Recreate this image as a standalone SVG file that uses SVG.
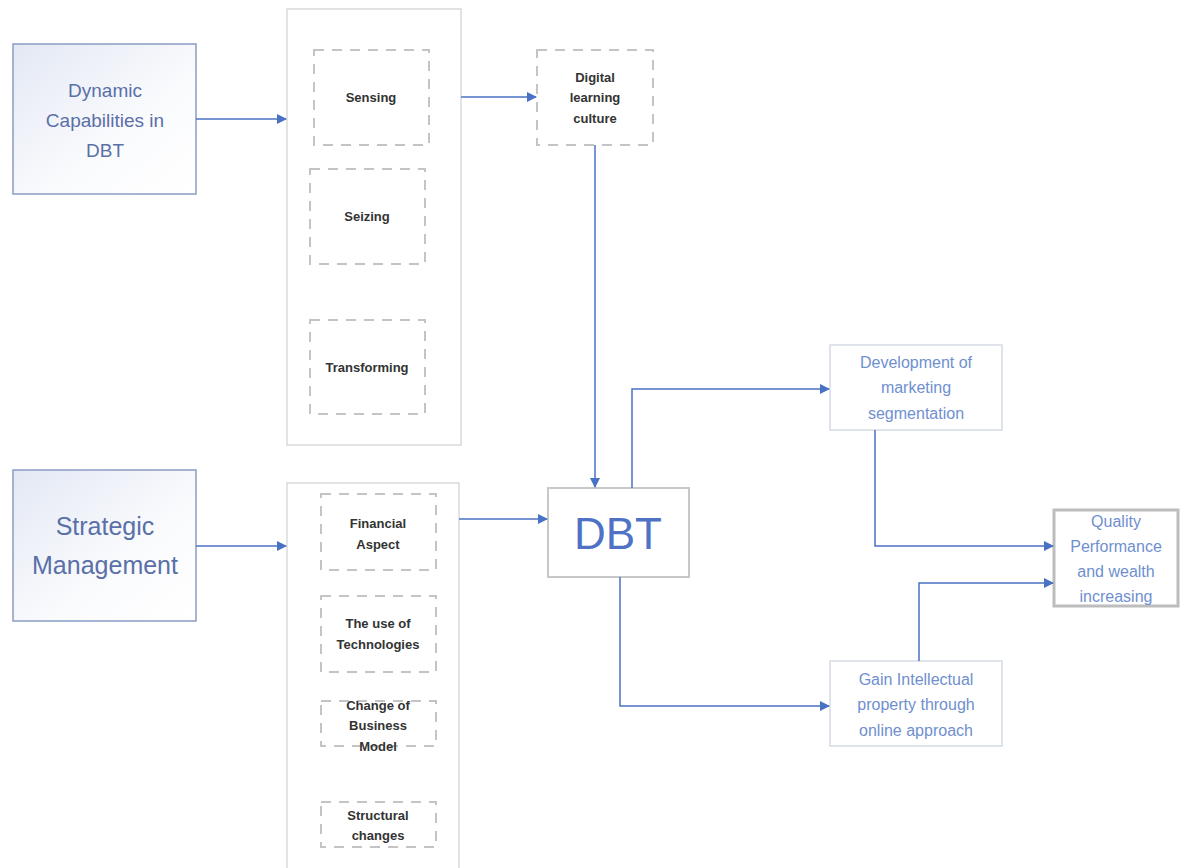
<svg xmlns="http://www.w3.org/2000/svg" width="1182" height="868" viewBox="0 0 1182 868">
<style>
.bg{fill:#ffffff}
.main{stroke:#8a9cc4;stroke-width:1.5}
.cont{fill:#fff;stroke:#d0d0d0;stroke-width:1.2}
.dash{fill:none;stroke:#c4c4c4;stroke-width:2;stroke-dasharray:10,8}
.box{fill:#fff;stroke:#d4dae6;stroke-width:1.5}
.qbox{fill:#fff;stroke:#bdbdbd;stroke-width:3}
.dbt{fill:#fff;stroke:#c8c8c8;stroke-width:2}
.t1{font-family:"Liberation Sans",Arial,sans-serif;fill:#5a70a8;text-anchor:middle}
.t2{font-family:"Liberation Sans",Arial,sans-serif;font-weight:bold;font-size:13px;fill:#333;text-anchor:middle}
.t3{font-family:"Liberation Sans",Arial,sans-serif;font-size:16px;fill:#6f8fcf;text-anchor:middle}
.conn{fill:none;stroke:#4a72c4;stroke-width:1.5}
</style>
<defs>
<linearGradient id="g" x1="0" y1="0" x2="1" y2="1">
<stop offset="0" stop-color="#e3e8f4"/>
<stop offset="0.6" stop-color="#fafbfd"/>
<stop offset="1" stop-color="#ffffff"/>
</linearGradient>
<marker id="a" markerWidth="10" markerHeight="10" refX="9" refY="5" orient="auto" markerUnits="userSpaceOnUse">
<path d="M0,0 L10,5 L0,10 z" fill="#4a72c4"/>
</marker>
</defs>
<rect class="bg" width="1182" height="868"/>

<g id="dynamic">
<rect class="main" x="13" y="44" width="183" height="150" fill="url(#g)"/>
<text class="t1" font-size="19"><tspan x="105" y="97">Dynamic</tspan><tspan x="105" y="127">Capabilities in</tspan><tspan x="105" y="157">DBT</tspan></text>
</g>

<g id="container1">
<rect class="cont" x="287" y="9" width="174" height="436"/>
</g>
<g id="sensing">
<rect class="dash" x="314" y="50" width="115" height="95"/>
<text class="t2" x="371" y="102">Sensing</text>
</g>
<g id="seizing">
<rect class="dash" x="310" y="169" width="115" height="95"/>
<text class="t2" x="367" y="221">Seizing</text>
</g>
<g id="transforming">
<rect class="dash" x="310" y="320" width="115" height="94"/>
<text class="t2" x="367" y="372">Transforming</text>
</g>

<g id="digital">
<rect class="dash" x="537" y="50" width="116" height="95"/>
<text class="t2"><tspan x="595" y="82">Digital</tspan><tspan x="595" y="102">learning</tspan><tspan x="595" y="123">culture</tspan></text>
</g>

<g id="strategic">
<rect class="main" x="13" y="470" width="183" height="151" fill="url(#g)"/>
<text class="t1" font-size="25"><tspan x="105" y="535">Strategic</tspan><tspan x="105" y="574">Management</tspan></text>
</g>

<g id="container2">
<rect class="cont" x="287" y="483" width="172" height="390"/>
</g>
<g id="financial">
<rect class="dash" x="321" y="494" width="115" height="76"/>
<text class="t2"><tspan x="378" y="528">Financial</tspan><tspan x="378" y="549">Aspect</tspan></text>
</g>
<g id="technologies">
<rect class="dash" x="321" y="596" width="115" height="76"/>
<text class="t2"><tspan x="378" y="628">The use of</tspan><tspan x="378" y="649">Technologies</tspan></text>
</g>
<g id="business">
<rect class="dash" x="321" y="701" width="115" height="45"/>
<text class="t2"><tspan x="378" y="710">Change of</tspan><tspan x="378" y="730">Business</tspan><tspan x="378" y="751">Model</tspan></text>
</g>
<g id="structural">
<rect class="dash" x="321" y="802" width="115" height="45"/>
<text class="t2"><tspan x="378" y="820">Structural</tspan><tspan x="378" y="840">changes</tspan></text>
</g>

<g id="dbt">
<rect class="dbt" x="548" y="488" width="141" height="89"/>
<text x="618" y="549" font-family="'Liberation Sans',Arial,sans-serif" font-size="44" fill="#4f72c4" text-anchor="middle">DBT</text>
</g>

<g id="development">
<rect class="box" x="830" y="345" width="172" height="85"/>
<text class="t3"><tspan x="916" y="368">Development of</tspan><tspan x="916" y="393">marketing</tspan><tspan x="916" y="419">segmentation</tspan></text>
</g>

<g id="gain">
<rect class="box" x="830" y="661" width="172" height="85"/>
<text class="t3"><tspan x="916" y="685">Gain Intellectual</tspan><tspan x="916" y="710">property through</tspan><tspan x="916" y="736">online approach</tspan></text>
</g>

<g id="quality">
<rect class="qbox" x="1054" y="510" width="124" height="96"/>
<text class="t3"><tspan x="1116" y="527">Quality</tspan><tspan x="1116" y="552">Performance</tspan><tspan x="1116" y="577">and wealth</tspan><tspan x="1116" y="602">increasing</tspan></text>
</g>

<g id="connectors">
<path class="conn" d="M196,119 H286" marker-end="url(#a)"/>
<path class="conn" d="M461,97 H536" marker-end="url(#a)"/>
<path class="conn" d="M595,145 V487" marker-end="url(#a)"/>
<path class="conn" d="M196,546 H286" marker-end="url(#a)"/>
<path class="conn" d="M459,519 H547" marker-end="url(#a)"/>
<path class="conn" d="M632,488 V389 H829" marker-end="url(#a)"/>
<path class="conn" d="M620,577 V706 H829" marker-end="url(#a)"/>
<path class="conn" d="M875,430 V546 H1053" marker-end="url(#a)"/>
<path class="conn" d="M919,661 V583 H1053" marker-end="url(#a)"/>
</g>
</svg>
